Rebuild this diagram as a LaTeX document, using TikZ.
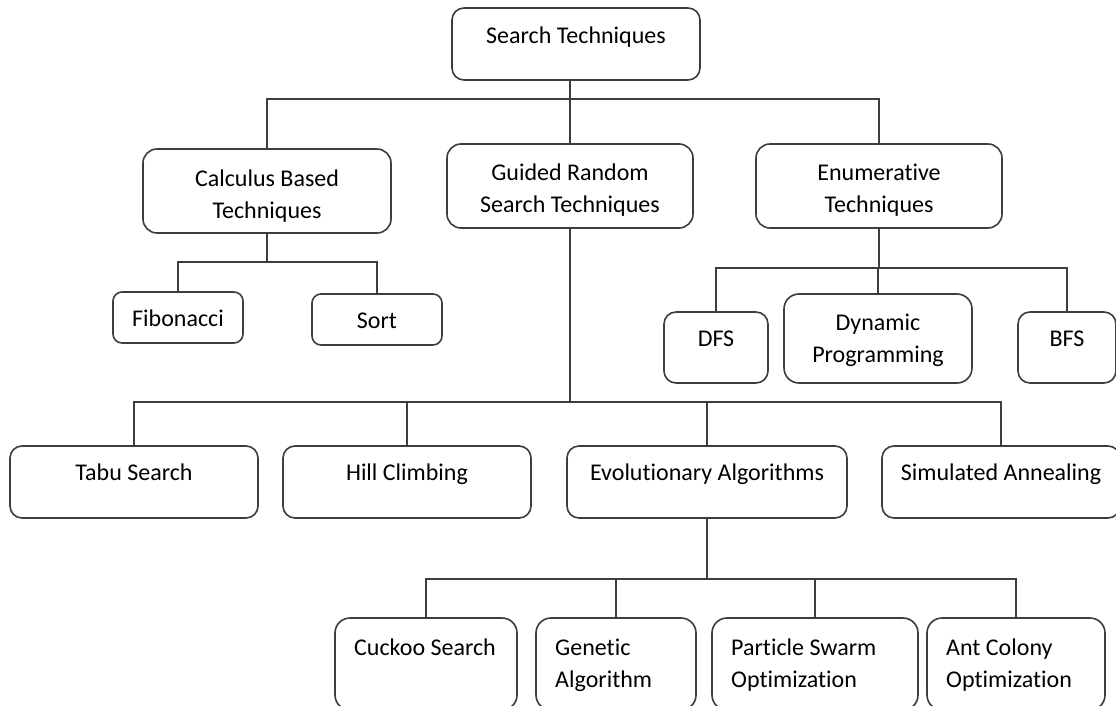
\documentclass[tikz,border=0pt]{standalone}
\usepackage{fontspec}
\setmainfont{Carlito}[Ligatures=NoCommon]
\definecolor{linegray}{gray}{0.24}
\tikzset{
  box/.style={draw=linegray, line width=1.6pt, rounded corners=#1,
    anchor=north west, inner sep=0pt, outer sep=0pt, fill=white},
  box/.default=12pt,
  link/.style={draw=linegray, line width=1.8pt},
  lbl/.style={font=\fontsize{24}{32.5}\selectfont, inner sep=0pt,
    anchor=north, align=center, text=black},
  lbll/.style={lbl, anchor=north west, align=left},
}
\newcommand\topstrut{\rule{0pt}{20pt}}
\begin{document}
\begin{tikzpicture}[x=1pt, y=-1pt]
\useasboundingbox (0,0) rectangle (1116,706);
\fill[white] (0,0) rectangle (1116,706);
\clip (0,0) rectangle (1116,706);

% boxes
\node[box] (root)   at (452,8)   [minimum width=248pt, minimum height=72pt] {};
\node[box=14pt] (calc)   at (143,149) [minimum width=248pt, minimum height=84pt] {};
\node[box=14pt] (guided) at (447,144) [minimum width=246pt, minimum height=84pt] {};
\node[box=14pt] (enum)   at (756,144) [minimum width=246pt, minimum height=84pt] {};
\node[box=9pt]  (fib)    at (113,292) [minimum width=130pt, minimum height=51pt] {};
\node[box=9pt]  (sort)   at (312,294) [minimum width=130pt, minimum height=51pt] {};
\node[box]      (dfs)    at (664,312) [minimum width=104pt, minimum height=71pt] {};
\node[box=15pt] (dyn)    at (784,294) [minimum width=188pt, minimum height=89pt] {};
\node[box]      (bfs)    at (1018,312)[minimum width=98pt,  minimum height=71pt] {};
\node[box]      (tabu)   at (10,446)  [minimum width=248pt, minimum height=72pt] {};
\node[box]      (hill)   at (283,446) [minimum width=248pt, minimum height=72pt] {};
\node[box]      (evo)    at (567,446) [minimum width=280pt, minimum height=72pt] {};
\node[box]      (sim)    at (882,446) [minimum width=238pt, minimum height=72pt] {};
\node[box=15pt] (cuckoo) at (335,618) [minimum width=182pt, minimum height=92pt] {};
\node[box=15pt] (genetic)at (536,618) [minimum width=160pt, minimum height=92pt] {};
\node[box=15pt] (pso)    at (712,618) [minimum width=206pt, minimum height=92pt] {};
\node[box=15pt] (aco)    at (927,618) [minimum width=178pt, minimum height=92pt] {};

% labels
\node[lbl] (root-t)   at ([yshift=-15pt]root.north)   {\topstrut Search Techniques};
\node[lbl] (calc-t)   at ([yshift=-17pt]calc.north)   {\topstrut Calculus Based\\Techniques};
\node[lbl] (guided-t) at ([yshift=-16pt]guided.north) {\topstrut Guided Random\\Search Techniques};
\node[lbl] (enum-t)   at ([yshift=-16pt]enum.north)   {\topstrut Enumerative\\Techniques};
\node[lbl] (fib-t)    at ([yshift=-14pt]fib.north)    {\topstrut Fibonacci};
\node[lbl] (sort-t)   at ([yshift=-14pt]sort.north)   {\topstrut Sort};
\node[lbl] (dfs-t)    at ([yshift=-14pt]dfs.north)    {\topstrut DFS};
\node[lbl] (dyn-t)    at ([yshift=-16pt]dyn.north)    {\topstrut Dynamic\\Programming};
\node[lbl] (bfs-t)    at ([yshift=-14pt]bfs.north)    {\topstrut BFS};
\node[lbl] (tabu-t)   at ([yshift=-14pt]tabu.north)   {\topstrut Tabu Search};
\node[lbl] (hill-t)   at ([yshift=-14pt]hill.north)   {\topstrut Hill Climbing};
\node[lbl] (evo-t)    at ([yshift=-14pt]evo.north)    {\topstrut Evolutionary Algorithms};
\node[lbl] (sim-t)    at ([yshift=-14pt]sim.north)    {\topstrut Simulated Annealing};
\node[lbll] (cuckoo-t)  at ([xshift=19pt,yshift=-17pt]cuckoo.north west)  {\topstrut Cuckoo Search};
\node[lbll] (genetic-t) at ([xshift=19pt,yshift=-17pt]genetic.north west) {\topstrut Genetic\\Algorithm};
\node[lbll] (pso-t)     at ([xshift=19pt,yshift=-17pt]pso.north west)     {\topstrut Particle Swarm\\Optimization};
\node[lbll] (aco-t)     at ([xshift=19pt,yshift=-17pt]aco.north west)     {\topstrut Ant Colony\\Optimization};

% bus lines of the tree
\coordinate (bus0) at (0,99);
\coordinate (bus1) at (0,262);
\coordinate (bus2) at (0,268);
\coordinate (bus3) at (0,402);
\coordinate (bus4) at (0,579);

% root level
\draw[link] (guided.north) -- (guided.north |- root.south);
\draw[link] (calc.north) |- (enum.north |- bus0) -- (enum.north);

% calculus based branch
\draw[link] (calc.south) -- (calc.south |- bus1);
\draw[link] (fib.north) |- (sort.north |- bus1) -- (sort.north);

% enumerative branch
\draw[link] (enum.south) -- (enum.south |- bus2);
\draw[link] (dfs.north) |- (bfs.north |- bus2) -- (bfs.north);
\draw[link] (dyn.north) -- (dyn.north |- bus2);

% guided random branch
\draw[link] (guided.south) -- (guided.south |- bus3);
\draw[link] (tabu.north) |- (sim.north |- bus3) -- (sim.north);
\draw[link] (hill.north) -- (hill.north |- bus3);
\draw[link] (evo.north) -- (evo.north |- bus3);

% evolutionary branch
\draw[link] (evo.south) -- (evo.south |- bus4);
\draw[link] (cuckoo.north) |- (aco.north |- bus4) -- (aco.north);
\draw[link] (genetic.north) -- (genetic.north |- bus4);
\draw[link] (pso.north) -- (pso.north |- bus4);
\end{tikzpicture}
\end{document}
